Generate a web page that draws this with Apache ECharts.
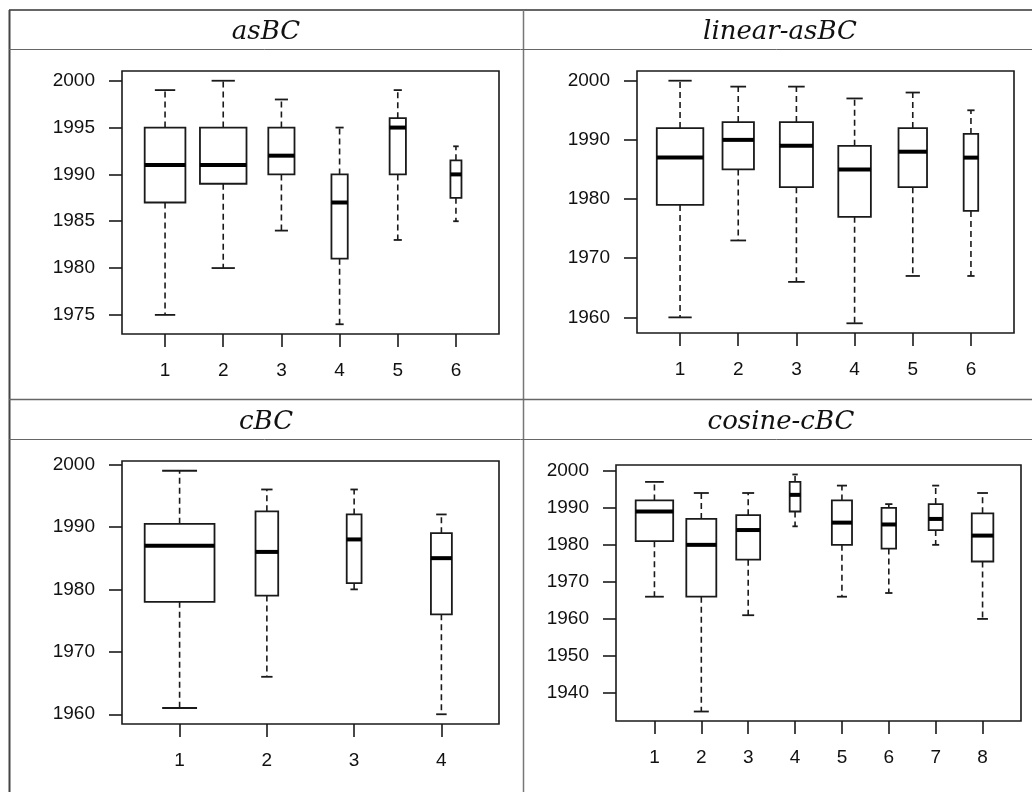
<!DOCTYPE html>
<html>
<head>
<meta charset="utf-8">
<script src="https://cdn.jsdelivr.net/npm/echarts@6/dist/echarts.min.js"></script>
<style>
  html, body { margin: 0; padding: 0; background: #fff; }
  #chart { width: 1032px; height: 792px; }
</style>
</head>
<body>
<div id="chart"></div>
<script>
// box statistics per group: [lower whisker, Q1, median, Q3, upper whisker]
const asbcCats = ['1', '2', '3', '4', '5', '6'];
const asbcStats = [
    [1975, 1987, 1991, 1995, 1999],
    [1980, 1989, 1991, 1995, 2000],
    [1984, 1990, 1992, 1995, 1998],
    [1974, 1981, 1987, 1990, 1995],
    [1983, 1990, 1995, 1996, 1999],
    [1985, 1987.5, 1990, 1991.5, 1993]
];
const asbcTicks = [1975, 1980, 1985, 1990, 1995, 2000];

const linearCats = ['1', '2', '3', '4', '5', '6'];
const linearStats = [
    [1960, 1979, 1987, 1992, 2000],
    [1973, 1985, 1990, 1993, 1999],
    [1966, 1982, 1989, 1993, 1999],
    [1959, 1977, 1985, 1989, 1997],
    [1967, 1982, 1988, 1992, 1998],
    [1967, 1978, 1987, 1991, 1995]
];
const linearTicks = [1960, 1970, 1980, 1990, 2000];

const cbcCats = ['1', '2', '3', '4'];
const cbcStats = [
    [1961, 1978, 1987, 1990.5, 1999],
    [1966, 1979, 1986, 1992.5, 1996],
    [1980, 1981, 1988, 1992, 1996],
    [1960, 1976, 1985, 1989, 1992]
];
const cbcTicks = [1960, 1970, 1980, 1990, 2000];

const cosineCats = ['1', '2', '3', '4', '5', '6', '7', '8'];
const cosineStats = [
    [1966, 1981, 1989, 1992, 1997],
    [1935, 1966, 1980, 1987, 1994],
    [1961, 1976, 1984, 1988, 1994],
    [1985, 1989, 1993.5, 1997, 1999],
    [1966, 1980, 1986, 1992, 1996],
    [1967, 1979, 1985.5, 1990, 1991],
    [1980, 1984, 1987, 1991, 1996],
    [1960, 1975.5, 1982.5, 1988.5, 1994]
];
const cosineTicks = [1940, 1950, 1960, 1970, 1980, 1990, 2000];

// box widths (varwidth style, in x-axis units)
const asbcWidths = [0.7, 0.8, 0.45, 0.28, 0.28, 0.19];
const linearWidths = [0.8, 0.54, 0.57, 0.56, 0.49, 0.25];
const cbcWidths = [0.8, 0.26, 0.17, 0.24];
const cosineWidths = [0.8, 0.64, 0.51, 0.23, 0.43, 0.31, 0.30, 0.46];

const panels = [
    { title: 'asBC', cats: asbcCats, stats: asbcStats, ticks: asbcTicks, widths: asbcWidths,
      grid: { left: 122, top: 71, width: 377, height: 263 }, titlePos: [266, 32] },
    { title: 'linear-asBC', cats: linearCats, stats: linearStats, ticks: linearTicks, widths: linearWidths,
      grid: { left: 637, top: 71, width: 377, height: 262 }, titlePos: [780, 32] },
    { title: 'cBC', cats: cbcCats, stats: cbcStats, ticks: cbcTicks, widths: cbcWidths,
      grid: { left: 122, top: 461, width: 377, height: 263 }, titlePos: [266, 422] },
    { title: 'cosine-cBC', cats: cosineCats, stats: cosineStats, ticks: cosineTicks, widths: cosineWidths,
      grid: { left: 616, top: 465, width: 405, height: 256 }, titlePos: [781, 422] }
];

const INK = '#1a1a1a';
const labelFont = { fontFamily: 'Liberation Sans', fontSize: 19, color: '#111' };

function makeRenderer(widths) {
    return function (params, api) {
        const x = api.value(0);
        const low = api.coord([x, api.value(1)]);
        const q1 = api.coord([x, api.value(2)]);
        const med = api.coord([x, api.value(3)]);
        const q3 = api.coord([x, api.value(4)]);
        const high = api.coord([x, api.value(5)]);
        const half = api.size([widths[params.dataIndex], 0])[0] / 2;
        const cx = med[0];
        const dash = { stroke: INK, lineWidth: 1.6, lineDash: [6, 4] };
        const solid = { stroke: INK, lineWidth: 1.8 };
        return {
            type: 'group',
            children: [
                { type: 'line', shape: { x1: cx, y1: q3[1], x2: cx, y2: high[1] }, style: dash },
                { type: 'line', shape: { x1: cx, y1: q1[1], x2: cx, y2: low[1] }, style: dash },
                { type: 'line', shape: { x1: cx - half / 2, y1: high[1], x2: cx + half / 2, y2: high[1] }, style: solid },
                { type: 'line', shape: { x1: cx - half / 2, y1: low[1], x2: cx + half / 2, y2: low[1] }, style: solid },
                { type: 'rect', shape: { x: cx - half, y: q3[1], width: half * 2, height: q1[1] - q3[1] },
                  style: { fill: '#fff', stroke: INK, lineWidth: 1.8 } },
                { type: 'line', shape: { x1: cx - half, y1: med[1], x2: cx + half, y2: med[1] },
                  style: { stroke: '#000', lineWidth: 4 } }
            ]
        };
    };
}

const grids = [], xAxes = [], yAxes = [], series = [], graphics = [];

panels.forEach((p, i) => {
    const n = p.cats.length;
    const lo = Math.min(...p.stats.map(s => s[0]));
    const hi = Math.max(...p.stats.map(s => s[4]));
    const pad = (hi - lo) * 0.04;
    const xPad = n * 0.04;
    const positions = p.cats.map((c, k) => k + 1);

    grids.push(Object.assign({ show: true, borderColor: INK, borderWidth: 1.6, backgroundColor: 'transparent' }, p.grid));
    xAxes.push({
        type: 'value', gridIndex: i, min: 0.5 - xPad, max: n + 0.5 + xPad,
        axisLine: { show: false }, splitLine: { show: false },
        axisTick: { show: true, length: 13, customValues: positions, lineStyle: { color: INK, width: 1.6 } },
        axisLabel: Object.assign({ margin: 27, customValues: positions, formatter: v => p.cats[Math.round(v) - 1] }, labelFont)
    });
    yAxes.push({
        type: 'value', gridIndex: i, min: lo - pad, max: hi + pad,
        axisLine: { show: false }, splitLine: { show: false },
        axisTick: { show: true, length: 13, customValues: p.ticks, lineStyle: { color: INK, width: 1.6 } },
        axisLabel: Object.assign({ margin: 27, customValues: p.ticks, formatter: v => String(v) }, labelFont)
    });
    series.push({
        type: 'custom', xAxisIndex: i, yAxisIndex: i,
        renderItem: makeRenderer(p.widths),
        encode: { x: 0, y: [1, 2, 3, 4, 5] },
        data: p.stats.map((s, k) => [k + 1].concat(s)),
        silent: true
    });
    graphics.push({
        type: 'text', x: p.titlePos[0], y: p.titlePos[1],
        style: { text: p.title, fontFamily: 'DejaVu Serif', fontStyle: 'italic', fontSize: 26,
                 fill: '#111', align: 'center', verticalAlign: 'middle' }
    });
});

// table frame
const frame = [
    [9, 10, 1032, 10, '#666', 2],
    [9.5, 10, 9.5, 792, '#444', 2],
    [523.5, 10, 523.5, 792, '#777', 1.5],
    [9, 49.5, 1032, 49.5, '#666', 1],
    [9, 399.5, 1032, 399.5, '#666', 1.5],
    [9, 439.5, 1032, 439.5, '#666', 1]
];
frame.forEach(f => graphics.push({
    type: 'line', shape: { x1: f[0], y1: f[1], x2: f[2], y2: f[3] },
    style: { stroke: f[4], lineWidth: f[5] }, silent: true
}));

const chart = echarts.init(document.getElementById('chart'));
chart.setOption({
    animation: false,
    grid: grids,
    xAxis: xAxes,
    yAxis: yAxes,
    series: series,
    graphic: graphics
});
</script>
</body>
</html>
